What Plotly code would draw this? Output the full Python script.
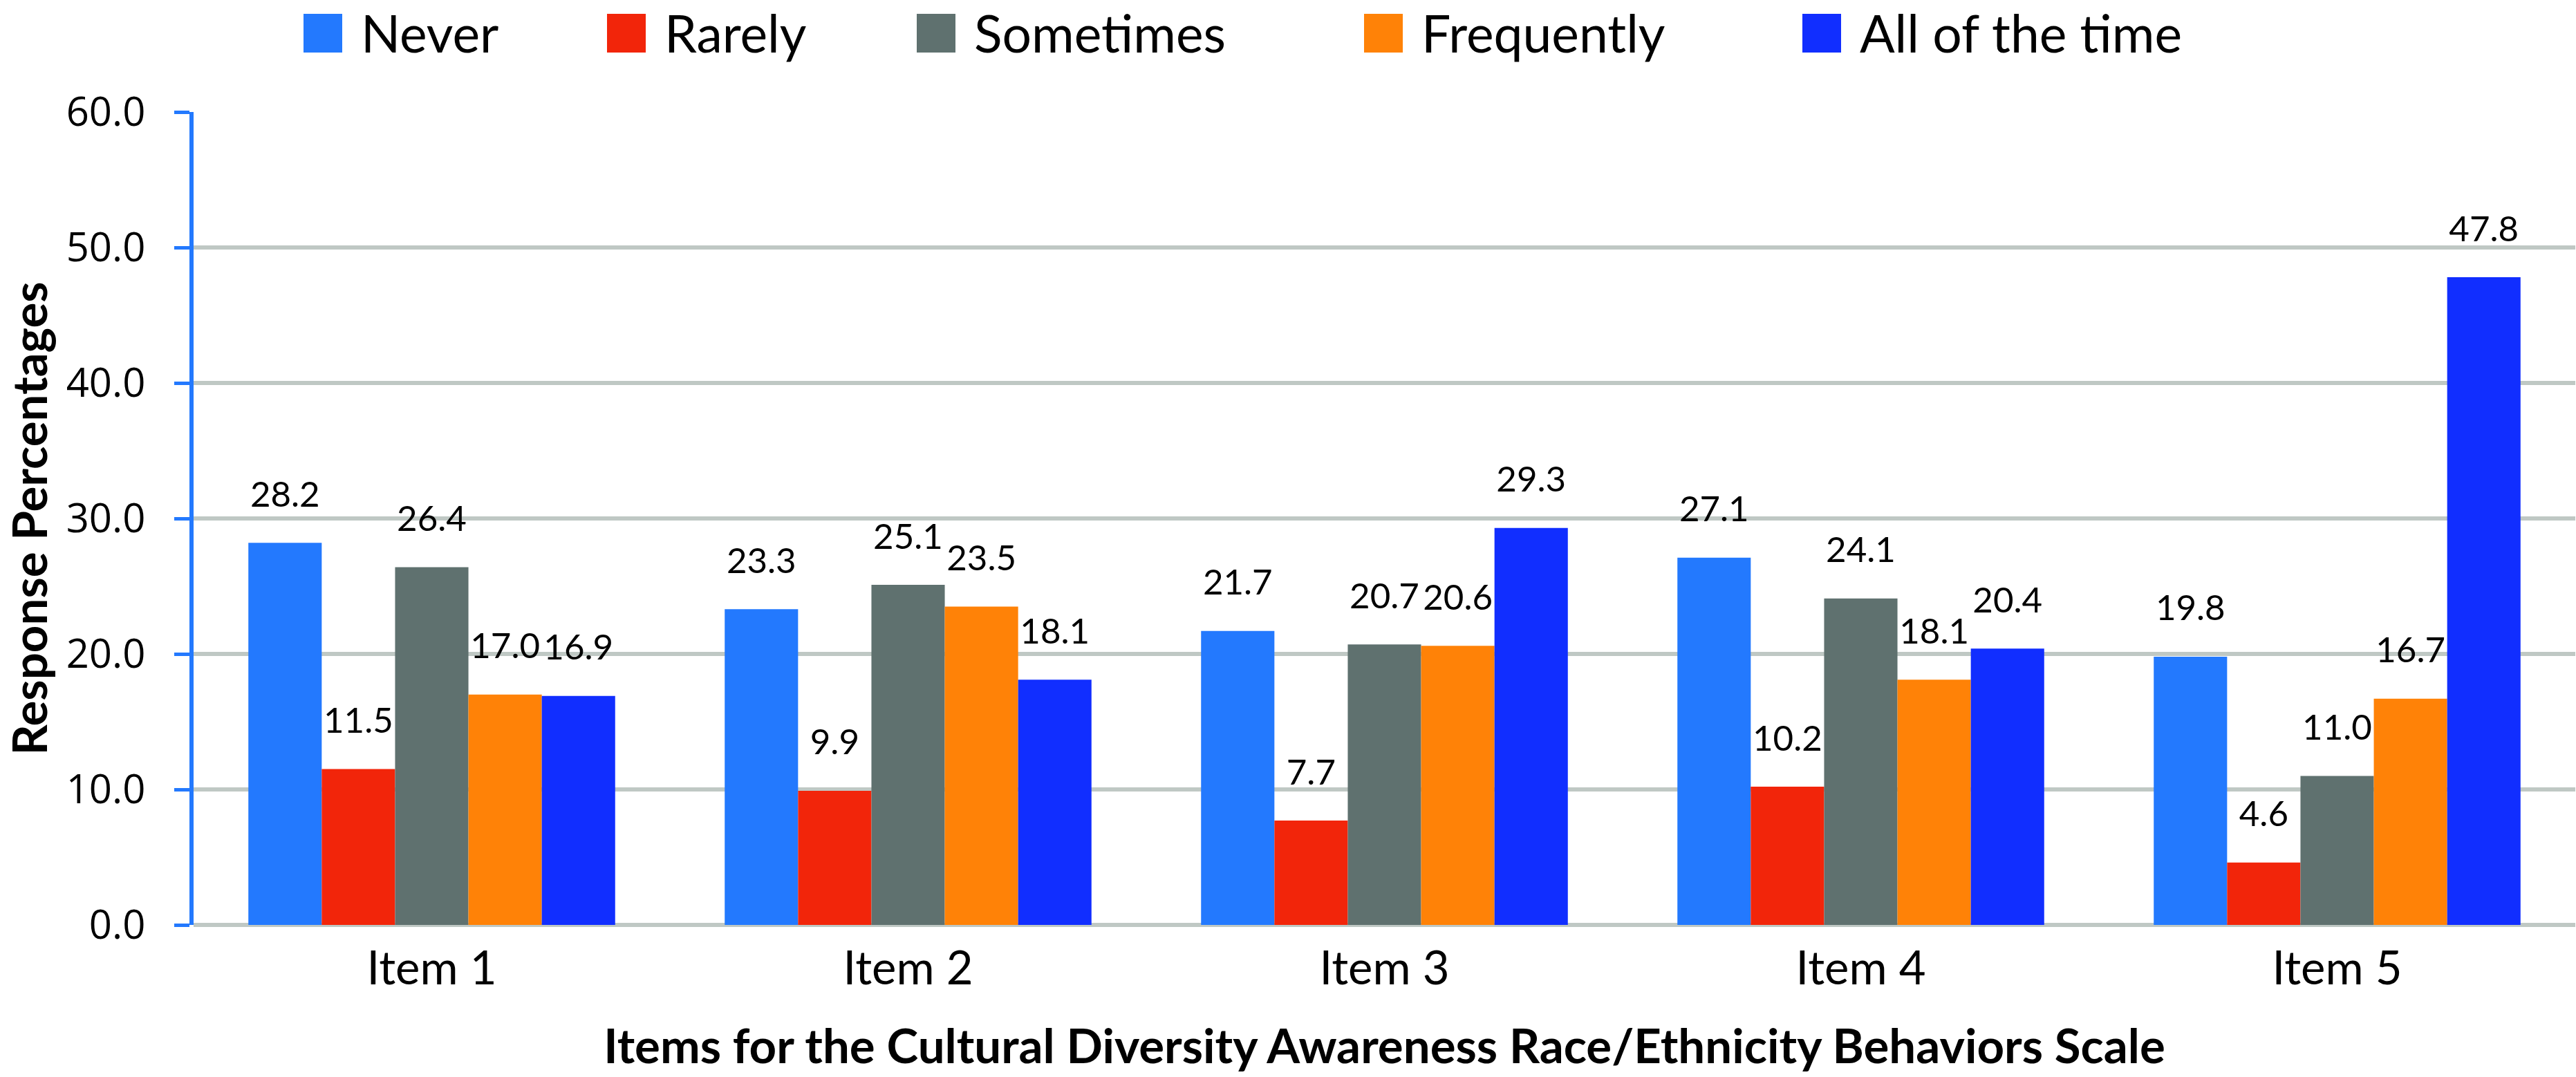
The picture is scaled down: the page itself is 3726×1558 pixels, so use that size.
import plotly.graph_objects as go

# ---- data ----
items = ["Item 1", "Item 2", "Item 3", "Item 4", "Item 5"]
series_names = ["Never", "Rarely", "Sometimes", "Frequently", "All of the time"]
never = [28.2, 23.3, 21.7, 27.1, 19.8]
rarely = [11.5, 9.9, 7.7, 10.2, 4.6]
sometimes = [26.4, 25.1, 20.7, 24.1, 11.0]
frequently = [17.0, 23.5, 20.6, 18.1, 16.7]
all_of_the_time = [16.9, 18.1, 29.3, 20.4, 47.8]
y_tick_values = [0, 10, 20, 30, 40, 50, 60]
x_title = "Items for the Cultural Diversity Awareness Race/Ethnicity Behaviors Scale"
y_title = "Response Percentages"

series_values = [never, rarely, sometimes, frequently, all_of_the_time]
colors = ["#2379FE", "#F2250A", "#5F716F", "#FF8207", "#112EFF"]

# ---- layout constants (pixels) ----
W, H = 3726, 1558
ML, MR, MT, MB = 280, 1, 162, 220
PW, PH = W - ML - MR, H - MT - MB
FONT = "Lato"


def px_x(x):
    return (x - ML) / PW


def px_y(y):
    return (H - MB - y) / PH


fig = go.Figure()

for name, vals, col in zip(series_names, series_values, colors):
    fig.add_trace(go.Bar(
        x=items, y=vals, name=name, marker=dict(color=col, line=dict(width=0)),
        offsetgroup=name, showlegend=False, hoverinfo="skip",
    ))

# value labels, grouped like the bars, lifted above each bar
for name, vals in zip(series_names, series_values):
    fig.add_trace(go.Scatter(
        x=items, y=vals, mode="markers+text", offsetgroup=name,
        marker=dict(size=62, color="rgba(0,0,0,0)"),
        text=[f"{v:.1f}" for v in vals], textposition="top center",
        textfont=dict(family=FONT, size=51, color="black"),
        showlegend=False, hoverinfo="skip", cliponaxis=False,
    ))

# manual legend (large square swatches)
legend_left_px = [439, 878, 1326, 1973, 2607]
SW = 56
SW_TOP = 20
shapes = []
annotations = []
for name, col, x0 in zip(series_names, colors, legend_left_px):
    shapes.append(dict(type="rect", xref="paper", yref="paper",
                       x0=px_x(x0), x1=px_x(x0 + SW), y0=px_y(SW_TOP + SW), y1=px_y(SW_TOP),
                       fillcolor=col, line=dict(width=0)))
    annotations.append(dict(xref="paper", yref="paper", x=px_x(x0 + 82), y=px_y(1),
                            xanchor="left", yanchor="top", showarrow=False, borderpad=0,
                            text=name, font=dict(family=FONT, size=75, color="black")))

fig.update_layout(
    width=W, height=H, autosize=False,
    margin=dict(l=ML, r=MR, t=MT, b=MB, pad=0),
    paper_bgcolor="white", plot_bgcolor="white",
    barmode="group", bargap=0.23, bargroupgap=0,
    scattermode="group", scattergap=0.23,
    shapes=shapes, annotations=annotations,
    showlegend=False,
)

fig.update_xaxes(
    type="category", showline=False, ticks="", showgrid=False, zeroline=False,
    tickfont=dict(family=FONT, size=67, color="black"),
    ticklabelstandoff=18,
    title=dict(text=f"<b>{x_title}</b>", font=dict(family=FONT, size=69, color="black"), standoff=52),
)

fig.update_yaxes(
    range=[0, 60], tickvals=y_tick_values, tickformat=".1f",
    showline=True, linecolor="#2379FE", linewidth=6,
    ticks="outside", ticklen=22, tickwidth=5, tickcolor="#2379FE",
    showgrid=True, gridcolor="#BFC8C4", gridwidth=6,
    zeroline=True, zerolinecolor="#BFC8C4", zerolinewidth=6,
    tickfont=dict(family="Open Sans", size=58, color="black"),
    ticklabelstandoff=30,
    title=dict(text=f"<b>{y_title}</b>", font=dict(family=FONT, size=69, color="black"), standoff=38),
)

fig.write_html("out.html", config={"displayModeBar": False})
